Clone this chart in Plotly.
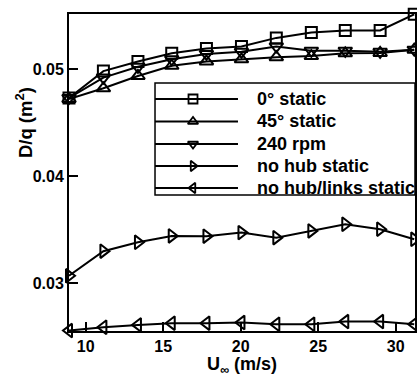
import plotly.graph_objects as go

u = [8.92, 11.14, 13.37, 15.55, 17.79, 20.05, 22.3, 24.56, 26.75, 29.0, 31.2]
static0 = [0.0473, 0.0498, 0.0507, 0.05146, 0.0519, 0.0521, 0.0529, 0.0534, 0.0536, 0.0536, 0.0551]
static45 = [0.0472, 0.0482, 0.04935, 0.0503, 0.0507, 0.0509, 0.0511, 0.0512, 0.05146, 0.0515, 0.0518]
rpm240 = [0.0473, 0.0492, 0.0502, 0.0509, 0.0514, 0.0516, 0.0521, 0.0517, 0.0517, 0.0516, 0.0518]
nohub = [0.0307, 0.0330, 0.03383, 0.03442, 0.0344, 0.03473, 0.03426, 0.03489, 0.03551, 0.03505, 0.03411]
nohublinks = [0.02559, 0.0259, 0.02612, 0.02628, 0.02628, 0.02634, 0.02618, 0.02618, 0.02643, 0.02643, 0.02618]

names = ["0\u00b0 static", "45\u00b0 static", "240 rpm", "no hub static", "no hub/links static"]
values = [static0, static45, rpm240, nohub, nohublinks]
symbols = ["square-open", "triangle-up-open", "triangle-down-open", "triangle-right-open", "triangle-left-open"]
sizes = [11, 12, 12, 12, 12]

# legend layout (paper coordinates)
leg_box = (0.2486, 0.429, 1.0, 0.7823)
leg_rows = [0.7319, 0.6609, 0.5899, 0.5205, 0.4511]
leg_line = (0.2486, 0.4884)
leg_marker_x = 0.3584
leg_text_x = 0.5376

FONT = "Liberation Sans"

fig = go.Figure()
for name, ys, sym, sz in zip(names, values, symbols, sizes):
    fig.add_trace(go.Scatter(
        x=u, y=ys, name=name, mode="lines+markers", showlegend=False,
        line=dict(color="black", width=2),
        marker=dict(symbol=sym, size=sz, color="black", line=dict(color="black", width=2)),
        cliponaxis=False,
    ))

shapes = [dict(type="rect", xref="paper", yref="paper",
               x0=leg_box[0], y0=leg_box[1], x1=leg_box[2], y1=leg_box[3],
               fillcolor="white", line=dict(color="black", width=1.5), layer="below")]
annotations = []
for name, sym, ry in zip(names, symbols, leg_rows):
    shapes.append(dict(type="line", xref="paper", yref="paper",
                       x0=leg_line[0], x1=leg_line[1], y0=ry, y1=ry,
                       line=dict(color="black", width=2), layer="below"))
    fig.add_trace(go.Scatter(
        x=[leg_marker_x], y=[ry], xaxis="x2", yaxis="y2", mode="markers",
        showlegend=False, hoverinfo="skip", cliponaxis=False,
        marker=dict(symbol=sym, size=9, color="black", line=dict(color="black", width=1.8)),
    ))
    annotations.append(dict(
        text=name, xref="paper", yref="paper", x=leg_text_x, y=ry,
        xanchor="left", yanchor="middle", showarrow=False,
        font=dict(family=FONT, size=18, color="black", weight="bold"),
    ))

annotations.append(dict(
    text="D/q (m<sup>2</sup>)", textangle=-90, xref="paper", yref="paper",
    x=-0.13, y=0.656, xanchor="center", yanchor="middle", showarrow=False,
    font=dict(family=FONT, size=18.5, color="black", weight="bold"),
))
annotations.append(dict(
    text="U<sub>\u221e</sub> (m/s)", xref="paper", yref="paper",
    x=0.5, y=-0.108, xanchor="center", yanchor="middle", showarrow=False,
    font=dict(family=FONT, size=18, color="black", weight="bold"),
))

fig.update_layout(
    width=417, height=376,
    margin=dict(l=69, r=2, t=14, b=45),
    paper_bgcolor="white", plot_bgcolor="white",
    font=dict(family=FONT, size=16, color="black", weight="bold"),
    showlegend=False,
    xaxis=dict(
        range=[8.92, 31.25], tickvals=[10, 15, 20, 25, 30],
        ticks="inside", ticklen=9, tickwidth=1.5, tickcolor="black",
        showline=True, linecolor="black", linewidth=2, mirror=True,
        showgrid=False, zeroline=False, automargin=False,
    ),
    yaxis=dict(
        range=[0.02555, 0.05513], tickvals=[0.03, 0.04, 0.05], tickformat=".2f",
        ticks="inside", ticklen=9, tickwidth=1.5, tickcolor="black",
        showline=True, linecolor="black", linewidth=2, mirror=True,
        showgrid=False, zeroline=False, automargin=False,
    ),
    xaxis2=dict(overlaying="x", range=[0, 1], visible=False),
    yaxis2=dict(overlaying="y", range=[0, 1], visible=False),
    shapes=shapes,
    annotations=annotations,
)

fig.write_html("out.html")
